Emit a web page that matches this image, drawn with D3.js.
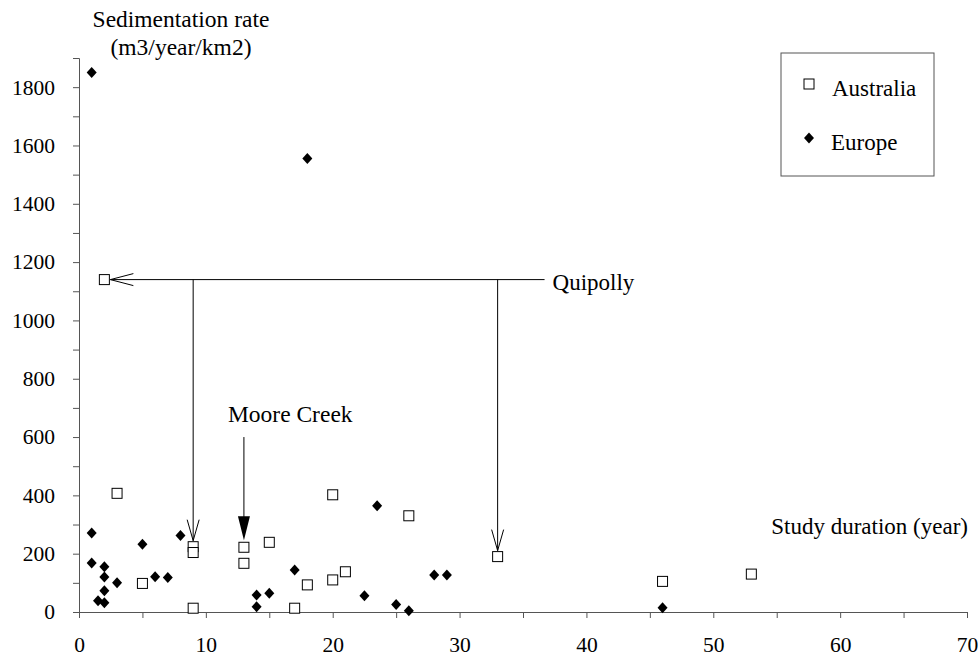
<!DOCTYPE html>
<html>
<head>
<meta charset="utf-8">
<script src="https://cdn.jsdelivr.net/npm/d3@7"></script>
<style>
  body { margin: 0; background: #fff; }
  text { font-family: "Liberation Serif", "Times New Roman", serif; fill: #000; }
</style>
</head>
<body>
<div id="chart"></div>
<script>
// Australia catchments: study duration (year) vs sedimentation rate
var australiaX = [2, 3, 5, 9, 9, 9, 13, 13, 15, 17, 18, 20, 20, 21, 26, 33, 46, 53];
var australiaY = [1140, 407, 98, 224, 204, 13, 222, 167, 239, 13, 93, 402, 110, 138, 330, 190, 105, 130];

// Europe
var europeX = [1, 1, 1, 1.5, 2, 2, 2, 2, 3, 5, 6, 7, 8, 14, 14, 15, 17, 18, 22.5, 23.5, 25, 26, 28, 29, 46];
var europeY = [1850, 271, 168, 39, 155, 120, 73, 32, 100, 232, 121, 118, 262, 58, 18, 64, 144, 1555, 56, 364, 26, 4, 127, 127, 15];

var xTicks = [0, 5, 10, 15, 20, 25, 30, 35, 40, 45, 50, 55, 60, 65, 70];
var yTicks = d3.range(0, 1901, 100);

var width = 978, height = 660;

var svg = d3.select('#chart')
    .append('svg')
    .attr('width', width)
    .attr('height', height);

var x = d3.scaleLinear()
    .domain([0, 70])
    .range([79, 967]);

var y = d3.scaleLinear()
    .domain([0, 1900])
    .range([612, 58]);

// axes
var xAxis = d3.axisBottom(x)
    .tickValues(xTicks)
    .tickSize(6)
    .tickPadding(19)
    .tickFormat(function(d) { return d % 10 === 0 ? d : ''; });

var yAxis = d3.axisLeft(y)
    .tickValues(yTicks)
    .tickSize(6)
    .tickPadding(18)
    .tickFormat(function(d) { return d % 200 === 0 ? d : ''; });

var gx = svg.append('g')
    .attr('transform', 'translate(0,' + y(0) + ')')
    .call(xAxis);

var gy = svg.append('g')
    .attr('transform', 'translate(' + x(0) + ',0)')
    .call(yAxis);

[gx, gy].forEach(function(g) {
  g.select('.domain').attr('stroke', '#555').attr('stroke-width', 1);
  g.selectAll('.tick line').attr('stroke', '#555');
  g.selectAll('.tick text')
      .style('font-family', '"Liberation Serif", serif')
      .style('font-size', '21.5px')
      .attr('fill', '#000');
});

// axis titles
svg.append('text')
    .attr('x', 181).attr('y', 27)
    .attr('text-anchor', 'middle')
    .style('font-size', '23.5px')
    .text('Sedimentation rate');

svg.append('text')
    .attr('x', 181).attr('y', 55)
    .attr('text-anchor', 'middle')
    .style('font-size', '23.5px')
    .text('(m3/year/km2)');

svg.append('text')
    .attr('x', 968).attr('y', 534)
    .attr('text-anchor', 'end')
    .style('font-size', '23px')
    .text('Study duration (year)');

// markers
var diamond = 'M0,-5.5L5,0L0,5.5L-5,0Z';
var sq = 10;

var australia = australiaX.map(function(d, i) { return { x: d, y: australiaY[i] }; });
var europe = europeX.map(function(d, i) { return { x: d, y: europeY[i] }; });

svg.append('g').selectAll('path')
    .data(europe)
    .enter().append('path')
    .attr('d', diamond)
    .attr('transform', function(d) { return 'translate(' + x(d.x) + ',' + y(d.y) + ')'; })
    .attr('fill', '#000');

svg.append('g').selectAll('rect')
    .data(australia)
    .enter().append('rect')
    .attr('x', function(d) { return x(d.x) - sq / 2; })
    .attr('y', function(d) { return y(d.y) - sq / 2; })
    .attr('width', sq)
    .attr('height', sq)
    .attr('fill', '#fff')
    .attr('stroke', '#000')
    .attr('stroke-width', 1);

// Quipolly annotation
var quip = australia[0];
var quipTargets = [australia[3], australia[15]];
var quipEnd = 36.7;
var ann = svg.append('g')
    .attr('stroke', '#000')
    .attr('stroke-width', 1)
    .attr('fill', 'none');

var qy = y(quip.y);
var qTip = x(quip.x) + sq / 2 + 1;
ann.append('line')
    .attr('x1', qTip).attr('y1', qy)
    .attr('x2', x(quipEnd)).attr('y2', qy);
ann.append('path')
    .attr('d', 'M' + (qTip + 23) + ',' + (qy - 6) + 'L' + qTip + ',' + qy + 'L' + (qTip + 23) + ',' + (qy + 6));

quipTargets.forEach(function(t) {
  var tx = x(t.x), ty = y(t.y) - sq / 2 - 1;
  ann.append('line')
      .attr('x1', tx).attr('y1', qy)
      .attr('x2', tx).attr('y2', ty);
  ann.append('path')
      .attr('d', 'M' + (tx - 6) + ',' + (ty - 21) + 'L' + tx + ',' + ty + 'L' + (tx + 6) + ',' + (ty - 21));
});

svg.append('text')
    .attr('x', x(quipEnd) + 8).attr('y', qy + 10)
    .style('font-size', '23px')
    .text('Quipolly');

// Moore Creek annotation
var moore = australia[6];
var mx = x(moore.x), mTip = y(moore.y) - sq / 2 - 2;
ann.append('line')
    .attr('x1', mx).attr('y1', y(600))
    .attr('x2', mx).attr('y2', mTip - 20);
svg.append('path')
    .attr('d', 'M' + (mx - 6) + ',' + (mTip - 24) + 'L' + mx + ',' + mTip + 'L' + (mx + 6) + ',' + (mTip - 24) + 'Z')
    .attr('fill', '#000');

svg.append('text')
    .attr('x', x(11.74)).attr('y', 422)
    .style('font-size', '23.5px')
    .text('Moore Creek');

// legend
var legend = svg.append('g');
legend.append('rect')
    .attr('x', 781).attr('y', 53)
    .attr('width', 153).attr('height', 123)
    .attr('fill', '#fff')
    .attr('stroke', '#555');
legend.append('rect')
    .attr('x', 809 - sq / 2).attr('y', 84 - sq / 2)
    .attr('width', sq).attr('height', sq)
    .attr('fill', '#fff').attr('stroke', '#000');
legend.append('text')
    .attr('x', 832).attr('y', 96)
    .style('font-size', '23px')
    .text('Australia');
legend.append('path')
    .attr('d', diamond)
    .attr('transform', 'translate(809,138)')
    .attr('fill', '#000');
legend.append('text')
    .attr('x', 831).attr('y', 150)
    .style('font-size', '23px')
    .text('Europe');
</script>
</body>
</html>
